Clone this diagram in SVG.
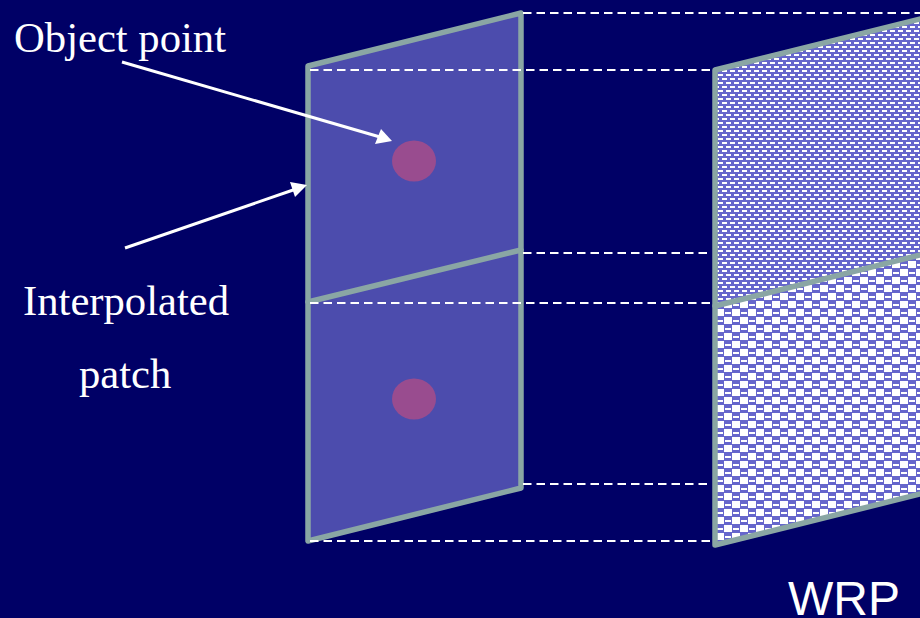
<svg xmlns="http://www.w3.org/2000/svg" width="920" height="618" viewBox="0 0 920 618">
<style>
.dash{stroke:#fff;stroke-width:2;stroke-dasharray:8.5 5;fill:none}
.edge{stroke:#8aa6a4;stroke-width:5.5;fill:none;stroke-linejoin:round;stroke-linecap:round}
.arrow{stroke:#fff;stroke-width:3;fill:none}
.t{font-family:"Liberation Serif",serif;font-size:42.67px;fill:#fff}
.dot{fill:#994c8f}
</style>
<defs>
<pattern id="fine" width="8" height="8" patternUnits="userSpaceOnUse" x="718" y="2">
<rect width="8" height="8" fill="#6666cc"/>
<rect x="0" y="0" width="5" height="2" fill="#fff"/>
<rect x="4" y="4" width="4" height="2" fill="#fff"/>
<rect x="0" y="4" width="1" height="2" fill="#fff"/>
</pattern>
<pattern id="coarse" width="16" height="16" patternUnits="userSpaceOnUse" x="748" y="405">
<rect width="16" height="16" fill="#6666cc"/>
<rect x="0" y="0" width="8" height="7" fill="#fff"/>
<rect x="8" y="8" width="8" height="7" fill="#fff"/>
<rect x="9" y="3" width="6" height="2" fill="#fff"/>
<rect x="1" y="11" width="6" height="2" fill="#fff"/>
</pattern>
</defs>
<rect width="920" height="618" fill="#000066"/>
<g id="patch">
<polygon points="308,66 521,13 521,488 308,541" fill="#4c4cad"/>
<polygon points="308,66 521,13 521,488 308,541" class="edge"/>
<line x1="308" y1="302" x2="521" y2="250" class="edge"/>
</g>
<g id="wrp">
<polygon points="715,70 920,19 920,255 715,306" fill="url(#fine)"/>
<polygon points="715,306 920,255 920,494 715,545" fill="url(#coarse)"/>
<polyline points="922,18.5 715,70 715,545 922,493.5" class="edge"/>
<line x1="715" y1="306" x2="922" y2="254.5" class="edge"/>
</g>
<g id="point1"><ellipse class="dot" cx="414" cy="161" rx="22" ry="20.5"/></g>
<g id="point2"><ellipse class="dot" cx="414" cy="399" rx="22" ry="20.5"/></g>
<g id="connectors">
<line x1="523" y1="13" x2="920" y2="13" class="dash"/>
<line x1="310" y1="70" x2="712" y2="70" class="dash"/>
<line x1="523" y1="253" x2="712" y2="253" class="dash"/>
<line x1="310" y1="303" x2="712" y2="303" class="dash"/>
<line x1="523" y1="484" x2="712" y2="484" class="dash"/>
<line x1="310" y1="541" x2="712" y2="541" class="dash"/>
<line x1="122" y1="62" x2="380" y2="137" class="arrow"/>
<polygon points="392,141 375,144 381,129" fill="#fff"/>
<line x1="125" y1="248" x2="296" y2="189" class="arrow"/>
<polygon points="307,185 295,197 290,182" fill="#fff"/>
</g>
<g id="labels">
<text class="t" x="14" y="52">Object point</text>
<text class="t" x="23" y="315">Interpolated</text>
<text class="t" x="79" y="388">patch</text>
<text x="788" y="615" font-family="Liberation Sans,sans-serif" font-size="48" fill="#fff">WRP</text>
</g>
</svg>
